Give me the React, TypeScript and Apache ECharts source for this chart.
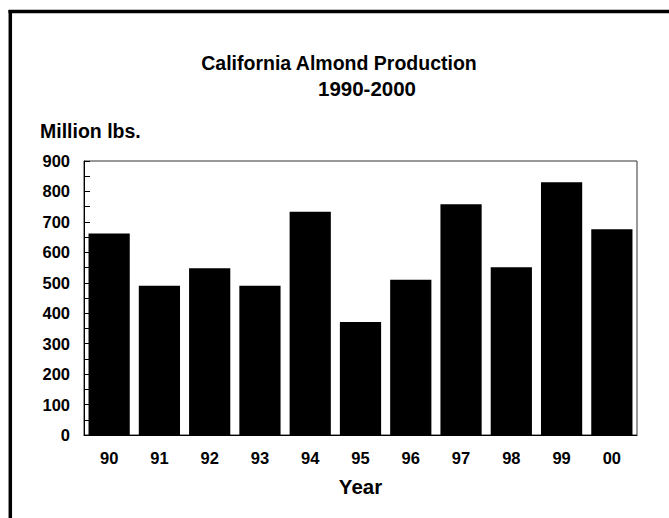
import React, { useEffect, useRef } from "react";
import * as echarts from "echarts";

const years = ["90", "91", "92", "93", "94", "95", "96", "97", "98", "99", "00"];
const production = [662, 490, 548, 490, 733, 371, 510, 758, 551, 830, 676];
const titleLine1 = "California Almond Production";
const titleLine2 = "1990-2000";
const yName = "Million lbs.";
const xName = "Year";

const FONT = "'Liberation Sans', Arial, sans-serif";

export default function App() {
  const ref = useRef<HTMLDivElement>(null);
  useEffect(() => {
    document.body.style.margin = "0";
    const chart = echarts.init(ref.current!, null, { renderer: "svg" });
    chart.setOption({
      animation: false,
      backgroundColor: "#ffffff",
      textStyle: { fontFamily: FONT, color: "#000" },
      title: [
        {
          text: titleLine1,
          left: 334,
          top: 48,
          textAlign: "center",
          textStyle: { fontFamily: FONT, fontSize: 19.5, fontWeight: "bold", color: "#000" },
        },
        {
          text: titleLine2,
          left: 362,
          top: 73,
          textAlign: "center",
          textStyle: { fontFamily: FONT, fontSize: 20.5, fontWeight: "bold", color: "#000" },
        },
      ],
      graphic: [
        {
          type: "line",
          shape: { x1: 10.3, y1: 10, x2: 10.3, y2: 518 },
          style: { stroke: "#000", lineWidth: 3.5 },
        },
        {
          type: "line",
          shape: { x1: 8.5, y1: 11.6, x2: 669, y2: 11.6 },
          style: { stroke: "#000", lineWidth: 3.5 },
        },
        {
          type: "text",
          left: 40,
          top: 121,
          style: { text: yName, fontFamily: FONT, fontSize: 19.5, fontWeight: "bold", fill: "#000" },
        },
      ],
      grid: {
        left: 84,
        right: 32,
        top: 161,
        bottom: 83,
        show: true,
        borderColor: "#333",
        borderWidth: 1,
        backgroundColor: "transparent",
      },
      xAxis: {
        type: "category",
        data: years,
        name: xName,
        nameLocation: "middle",
        nameGap: 41,
        nameTextStyle: { fontFamily: FONT, fontSize: 20.5, fontWeight: "bold", color: "#000" },
        axisLine: { show: true, lineStyle: { color: "#000", width: 1 } },
        axisTick: { show: false },
        axisLabel: { fontFamily: FONT, fontSize: 16.5, fontWeight: "bold", color: "#000", margin: 14 },
      },
      yAxis: {
        type: "value",
        min: 0,
        max: 900,
        interval: 100,
        axisLine: { show: true, lineStyle: { color: "#000", width: 1 } },
        axisTick: { show: true, inside: true, length: 6, lineStyle: { color: "#000" } },
        minorTick: { show: true, splitNumber: 2, length: 6, lineStyle: { color: "#000" } },
        splitLine: { show: false },
        axisLabel: { fontFamily: FONT, fontSize: 16.5, fontWeight: "bold", color: "#000", margin: 14 },
      },
      series: [
        {
          type: "bar",
          data: production,
          barCategoryGap: "18%",
          itemStyle: { color: "#000" },
        },
      ],
    });
    return () => chart.dispose();
  }, []);
  return (
    <div
      ref={ref}
      style={{ position: "fixed", left: 0, top: 0, width: 669, height: 518 }}
    />
  );
}
